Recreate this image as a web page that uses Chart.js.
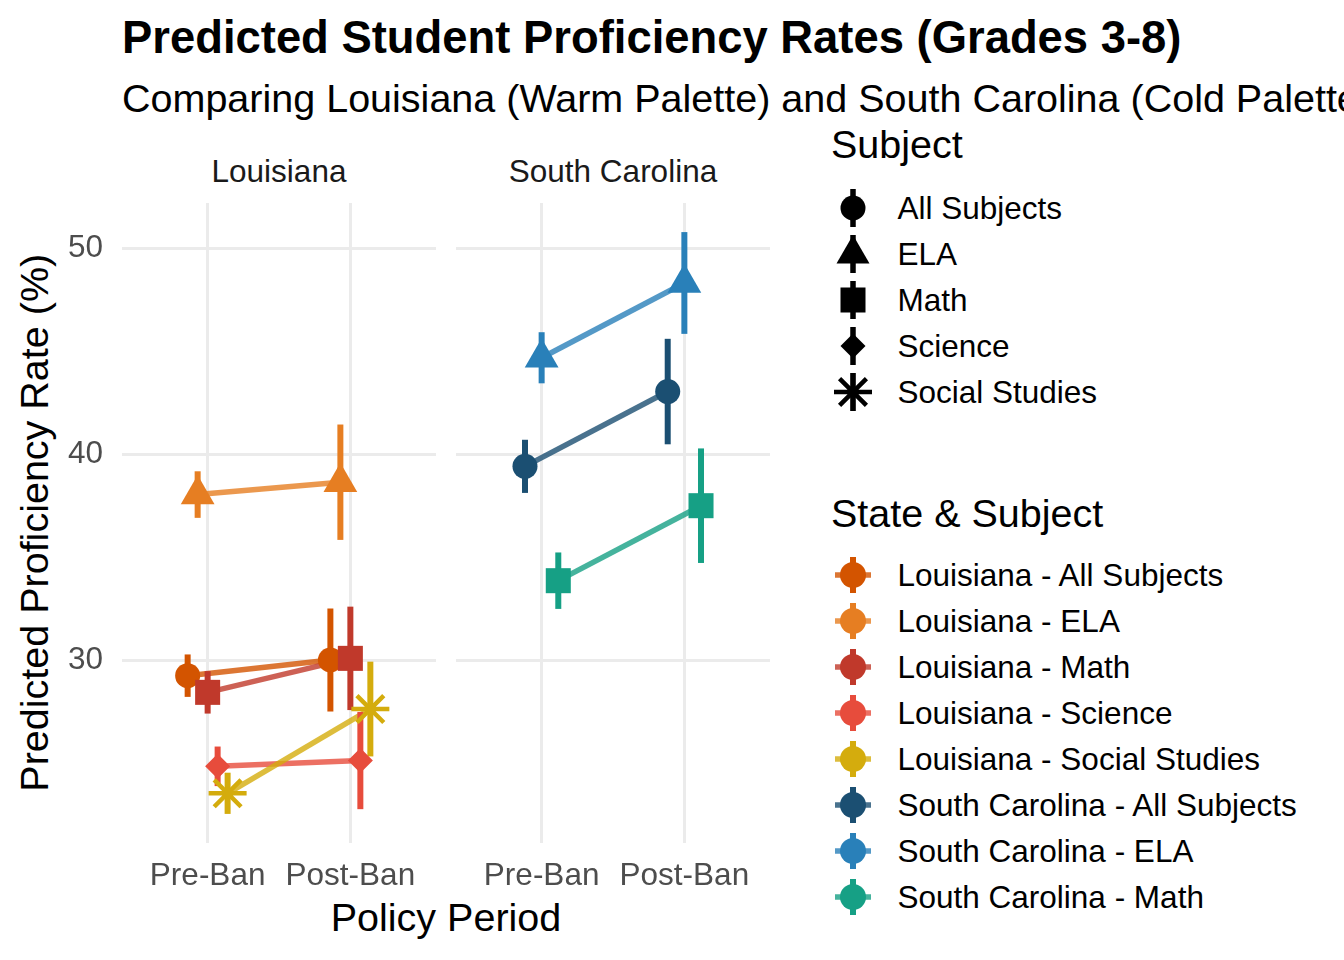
<!DOCTYPE html>
<html>
<head>
<meta charset="utf-8">
<title>Predicted Student Proficiency Rates</title>
<script src="https://cdn.jsdelivr.net/npm/chart.js"></script>
<style>
    body {
        margin: 0;
        width: 1344px;
        height: 960px;
        overflow: hidden;
        position: relative;
        background: #fff;
        font-family: "Liberation Sans", Arial, sans-serif;
    }
    .txt {
        position: absolute;
        white-space: nowrap;
        line-height: 1;
        color: #000;
    }
    #title { left: 122px; top: 15px; font-size: 45.4px; font-weight: bold; }
    #subtitle { left: 122px; top: 78.6px; font-size: 39.5px; }
    .strip { top: 156px; width: 314px; text-align: center; font-size: 31.5px; color: #1A1A1A; }
    #ytitle { left: -365px; top: 503px; width: 800px; text-align: center; font-size: 39.5px; transform: rotate(-90deg); }
    #xtitle { left: 96px; top: 897.6px; width: 700px; text-align: center; font-size: 39.5px; }
    .legtitle { left: 831px; font-size: 39.5px; }
    .leglabel { left: 897.5px; font-size: 31.5px; }
    .key { position: absolute; left: 829.5px; width: 46px; height: 46px; }
    canvas { position: absolute; }
</style>
</head>
<body>
    <div id="title" class="txt">Predicted Student Proficiency Rates (Grades 3-8)</div>
    <div id="subtitle" class="txt">Comparing Louisiana (Warm Palette) and South Carolina (Cold Palette)</div>
    <div class="txt strip" style="left:122px">Louisiana</div>
    <div class="txt strip" style="left:456px">South Carolina</div>
    <div id="ytitle" class="txt">Predicted Proficiency Rate (%)</div>
    <div id="xtitle" class="txt">Policy Period</div>

    <canvas id="laChart" width="436" height="770" style="left:0px; top:190px"></canvas>
    <canvas id="scChart" width="314" height="770" style="left:456px; top:190px"></canvas>

    <div id="legend"></div>

<script>
    // x categories and y ticks
    const periods = ['Pre-Ban', 'Post-Ban'];
    const yTicks = [30, 40, 50];

    // Louisiana estimates (Pre-Ban / Post-Ban) and error half-widths
    const laSubjects = ['All Subjects', 'ELA', 'Math', 'Science', 'Social Studies'];
    const laPre     = [29.27, 38.06, 28.46, 24.87, 23.56];
    const laPost    = [30.03, 38.66, 30.11, 25.15, 27.65];
    const laPreErr  = [1.03, 1.13, 1.03, 0.96, 1.00];
    const laPostErr = [2.50, 2.80, 2.51, 2.36, 2.30];

    // South Carolina
    const scSubjects = ['All Subjects', 'ELA', 'Math'];
    const scPre     = [39.43, 44.70, 33.88];
    const scPost    = [43.06, 48.33, 37.52];
    const scPreErr  = [1.29, 1.24, 1.37];
    const scPostErr = [2.56, 2.47, 2.78];

    // styling
    const subjectShapes = {
        'All Subjects': 'circle', 'ELA': 'triangle', 'Math': 'rect',
        'Science': 'rectRot', 'Social Studies': 'star'
    };
    const shapeRadius = { circle: 12.5, triangle: 19.5, rect: 17.7, rectRot: 12.5, star: 19 };
    const laColors = ['#D35400', '#E67E22', '#C0392B', '#E74C3C', '#D4AC0D'];
    const scColors = ['#1B4F72', '#2980B9', '#16A085'];
    const dodgeWidth = 0.35;
    const FONT = '"Liberation Sans", Arial, sans-serif';

    function withAlpha(hex, a) {
        const n = parseInt(hex.slice(1), 16);
        return `rgba(${(n >> 16) & 255}, ${(n >> 8) & 255}, ${n & 255}, ${a})`;
    }

    // y range like ggplot: data range incl. error bars, expanded 5%
    const allLo = [], allHi = [];
    [[laPre, laPreErr], [laPost, laPostErr], [scPre, scPreErr], [scPost, scPostErr]].forEach(([v, e]) => {
        v.forEach((val, i) => { allLo.push(val - e[i]); allHi.push(val + e[i]); });
    });
    const yLo = Math.min(...allLo), yHi = Math.max(...allHi);
    const yMin = yLo - (yHi - yLo) * 0.05;
    const yMax = yHi + (yHi - yLo) * 0.05;

    function buildDatasets(subjects, pre, post, preErr, postErr, colors) {
        const n = subjects.length;
        const ds = [];
        subjects.forEach((s, i) => {
            const off = (i - (n - 1) / 2) * dodgeWidth / n;
            const x1 = 1 + off, x2 = 2 + off;
            const shape = subjectShapes[s];
            // connecting line
            ds.push({
                data: [{ x: x1, y: pre[i] }, { x: x2, y: post[i] }],
                borderColor: withAlpha(colors[i], 0.8), borderWidth: 5.5,
                pointRadius: 0, order: 3 - i * 0.01, clip: false
            });
            // error bars
            [[x1, pre[i], preErr[i]], [x2, post[i], postErr[i]]].forEach(([x, v, e]) => {
                ds.push({
                    data: [{ x: x, y: v - e }, { x: x, y: v + e }],
                    borderColor: colors[i], borderWidth: 6,
                    pointRadius: 0, order: 2 - i * 0.01, clip: false
                });
            });
            // points
            ds.push({
                data: [{ x: x1, y: pre[i] }, { x: x2, y: post[i] }],
                showLine: false,
                pointStyle: shape,
                pointRadius: shapeRadius[shape],
                pointBackgroundColor: colors[i],
                pointBorderColor: colors[i],
                pointBorderWidth: shape === 'star' ? 4.5 : 0,
                order: 1 - i * 0.01, clip: false
            });
        });
        return ds;
    }

    function makeChart(id, datasets, showY) {
        const grid = { color: '#EBEBEB', lineWidth: 3, drawTicks: false };
        return new Chart(document.getElementById(id), {
            type: 'line',
            data: { datasets: datasets },
            options: {
                responsive: false,
                animation: false,
                events: [],
                layout: { autoPadding: false, padding: { top: 13, left: 0, right: 0, bottom: 0 } },
                plugins: { legend: { display: false }, tooltip: { enabled: false } },
                scales: {
                    x: {
                        type: 'linear', min: 0.4, max: 2.6,
                        grid: grid, border: { display: false },
                        afterBuildTicks: sc => { sc.ticks = periods.map((p, i) => ({ value: i + 1 })); },
                        afterFit: sc => { sc.height = 117; sc.paddingLeft = 0; sc.paddingRight = 0; },
                        ticks: {
                            padding: 14, color: '#4D4D4D', maxRotation: 0, autoSkip: false,
                            font: { family: FONT, size: 31.5 },
                            callback: v => periods[v - 1]
                        }
                    },
                    y: {
                        min: yMin, max: yMax,
                        grid: grid, border: { display: false },
                        afterBuildTicks: sc => { sc.ticks = yTicks.map(v => ({ value: v })); },
                        afterFit: sc => { sc.width = showY ? 122 : 0; sc.paddingTop = 0; sc.paddingBottom = 0; },
                        ticks: {
                            display: showY, padding: 19, color: '#4D4D4D',
                            font: { family: FONT, size: 31.5 }
                        }
                    }
                }
            }
        });
    }

    makeChart('laChart', buildDatasets(laSubjects, laPre, laPost, laPreErr, laPostErr, laColors), true);
    makeChart('scChart', buildDatasets(scSubjects, scPre, scPost, scPreErr, scPostErr, scColors), false);

    // legends
    function shapeSvg(shape, fill) {
        if (shape === 'circle') return `<circle cx="23" cy="23" r="12.5" fill="${fill}"/>`;
        if (shape === 'triangle') return `<polygon points="23,4 39.5,32.5 6.5,32.5" fill="${fill}"/>`;
        if (shape === 'rect') return `<rect x="10.5" y="10.5" width="25" height="25" fill="${fill}"/>`;
        if (shape === 'rectRot') return `<polygon points="23,10.5 35.5,23 23,35.5 10.5,23" fill="${fill}"/>`;
        let p = '';
        for (let k = 0; k < 4; k++) {
            const a = k * Math.PI / 4, dx = 19 * Math.sin(a), dy = 19 * Math.cos(a);
            p += `M${23 - dx},${23 - dy}L${23 + dx},${23 + dy}`;
        }
        return `<path d="${p}" stroke="${fill}" stroke-width="4.5"/>`;
    }

    const legend = document.getElementById('legend');
    let html = `<div class="txt legtitle" style="top:124.6px">Subject</div>`;
    laSubjects.forEach((s, i) => {
        const cy = 208 + i * 46;
        html += `<svg class="key" style="top:${cy - 23}px" viewBox="0 0 46 46">
            <line x1="23" y1="4" x2="23" y2="42" stroke="#000" stroke-width="5.5"/>
            ${shapeSvg(subjectShapes[s], '#000')}</svg>`;
        html += `<div class="txt leglabel" style="top:${cy - 15.4}px">${s}</div>`;
    });

    html += `<div class="txt legtitle" style="top:493.6px">State &amp; Subject</div>`;
    const seriesNames = laSubjects.map(s => 'Louisiana - ' + s).concat(scSubjects.map(s => 'South Carolina - ' + s));
    const seriesColors = laColors.concat(scColors);
    seriesNames.forEach((name, i) => {
        const cy = 575 + i * 46;
        const c = seriesColors[i];
        html += `<svg class="key" style="top:${cy - 23}px" viewBox="0 0 46 46">
            <line x1="5" y1="23" x2="41" y2="23" stroke="${withAlpha(c, 0.8)}" stroke-width="5.5"/>
            <line x1="23" y1="5" x2="23" y2="41" stroke="${c}" stroke-width="6"/>
            <circle cx="23" cy="23" r="13" fill="${c}"/></svg>`;
        html += `<div class="txt leglabel" style="top:${cy - 15.4}px">${name}</div>`;
    });
    legend.innerHTML = html;
</script>
</body>
</html>
